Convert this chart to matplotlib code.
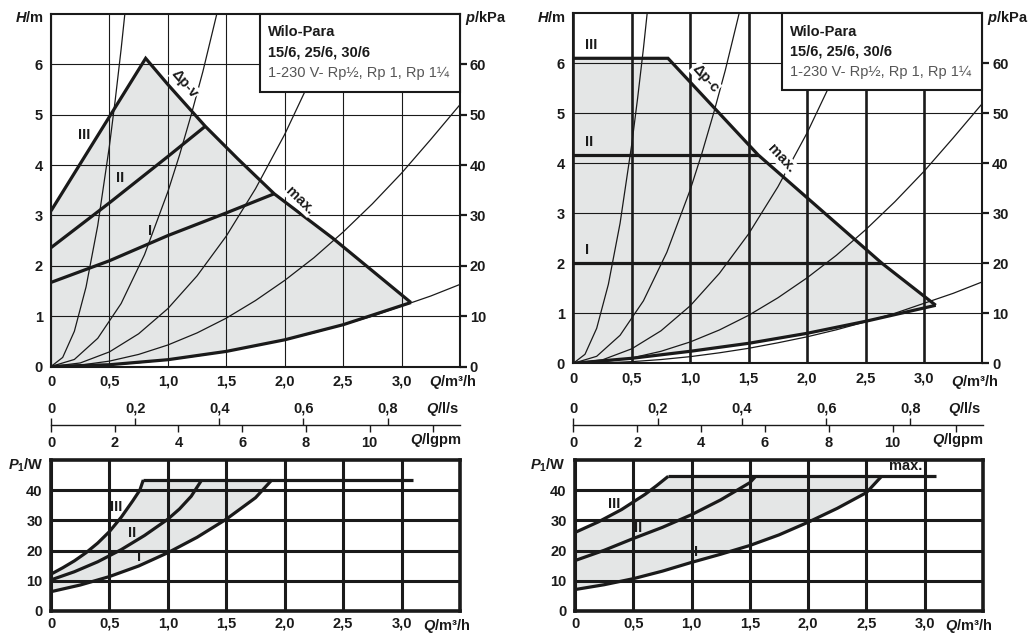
import matplotlib
matplotlib.use('Agg')
import matplotlib.pyplot as plt
from matplotlib.patches import Polygon, Rectangle

plt.rcParams['font.family'] = ['Liberation Sans', 'DejaVu Sans']
plt.rcParams['mathtext.fontset'] = 'custom'
plt.rcParams['mathtext.it'] = 'Liberation Sans:italic:bold'
plt.rcParams['mathtext.rm'] = 'Liberation Sans:bold'
plt.rcParams['mathtext.bf'] = 'Liberation Sans:bold'

W, H = 1028, 634
INK = '#1a1a1a'
FILL = '#e4e6e6'
FS = 10.5

# ---- axis ticks ----
q_ticks = [0, 0.5, 1.0, 1.5, 2.0, 2.5, 3.0]
q_labels = ['0', '0,5', '1,0', '1,5', '2,0', '2,5', '3,0']
h_ticks = [0, 1, 2, 3, 4, 5, 6]
p_ticks = [0, 10, 20, 30, 40, 50, 60]
pw_ticks = [0, 10, 20, 30, 40]
ls_ticks = [0, 0.2, 0.4, 0.6, 0.8]
ls_labels = ['0', '0,2', '0,4', '0,6', '0,8']
gpm_ticks = [0, 2, 4, 6, 8, 10, 12]
gpm_labels = ['0', '2', '4', '6', '8', '10', '']

# ---- thin system curves (Q m3/h, H m), same in both charts ----
sysA_q = [0, 0.1, 0.2, 0.3, 0.4, 0.5, 0.55, 0.6, 0.65]
sysA_h = [0, 0.18, 0.7, 1.58, 2.8, 4.38, 5.3, 6.3, 7.4]
sysB_q = [0, 0.2, 0.4, 0.6, 0.8, 1.0, 1.1, 1.2, 1.3, 1.45]
sysB_h = [0, 0.14, 0.56, 1.25, 2.22, 3.47, 4.2, 5.0, 5.86, 7.3]
sysC_q = [0, 0.25, 0.5, 0.75, 1.0, 1.25, 1.5, 1.75, 2.0, 2.25, 2.5]
sysC_h = [0, 0.07, 0.29, 0.65, 1.15, 1.8, 2.59, 3.53, 4.61, 5.84, 7.2]
sysD_q = [0, 0.25, 0.5, 0.75, 1.0, 1.25, 1.5, 1.75, 2.0, 2.25, 2.5, 2.75, 3.0, 3.25, 3.5]
sysD_h = [0, 0.027, 0.107, 0.24, 0.427, 0.667, 0.96, 1.31, 1.71, 2.16, 2.67, 3.23, 3.84, 4.51, 5.2]
sysE_q = [0, 0.25, 0.5, 0.75, 1.0, 1.25, 1.5, 1.75, 2.0, 2.25, 2.5, 2.75, 3.0, 3.25, 3.5]
sysE_h = [0, 0.008, 0.033, 0.075, 0.133, 0.21, 0.3, 0.41, 0.53, 0.67, 0.83, 1.0, 1.2, 1.4, 1.63]

# ---- left: dp-v ----
v3_q = [0, 0.81]
v3_h = [3.09, 6.12]
v2_q = [0, 0.5, 1.0, 1.32]
v2_h = [2.36, 3.25, 4.17, 4.77]
v1_q = [0, 0.5, 1.0, 1.5, 1.91]
v1_h = [1.67, 2.1, 2.6, 3.05, 3.43]
vmax_q = [0.81, 1.0, 1.32, 1.6, 1.91, 2.41, 3.08]
vmax_h = [6.12, 5.6, 4.77, 4.12, 3.43, 2.55, 1.27]
vlow_q = [3.08, 2.5, 2.0, 1.5, 1.0, 0.5, 0]
vlow_h = [1.27, 0.83, 0.53, 0.3, 0.135, 0.035, 0]

# ---- right: dp-c ----
c3_q = [0, 0.81]
c3_h = [6.1, 6.1]
c2_q = [0, 1.58]
c2_h = [4.17, 4.17]
c1_q = [0, 2.64]
c1_h = [2.0, 2.0]
cmax_q = [0.81, 1.58, 2.64, 3.1]
cmax_h = [6.1, 4.17, 2.0, 1.16]
clow_q = [3.1, 2.5, 2.0, 1.5, 1.0, 0.5, 0]
clow_h = [1.16, 0.84, 0.6, 0.4, 0.24, 0.1, 0]

# ---- power curves P1 (W) ----
pl3_q = [0, 0.1, 0.2, 0.3, 0.4, 0.5, 0.6, 0.7, 0.76, 0.79]
pl3_p = [12.2, 14.3, 16.6, 19.3, 22.5, 26.3, 31, 36.5, 40, 43.4]
pl2_q = [0, 0.2, 0.4, 0.6, 0.8, 1.0, 1.1, 1.2, 1.29]
pl2_p = [10.3, 13, 16.3, 20.3, 25, 30.4, 33.8, 38, 43.4]
pl1_q = [0, 0.25, 0.5, 0.75, 1.0, 1.25, 1.5, 1.75, 1.89]
pl1_p = [6.4, 8.6, 11.4, 14.9, 19.3, 24.4, 30.4, 37.5, 43.4]
plmax_q = [0.79, 3.1]
plmax_p = [43.4, 43.4]

pr3_q = [0, 0.2, 0.4, 0.6, 0.7, 0.8]
pr3_p = [26, 29.5, 33.6, 38.6, 41.5, 44.6]
pr2_q = [0, 0.25, 0.5, 0.75, 1.0, 1.25, 1.5, 1.55]
pr2_p = [16.7, 20.1, 24, 27.7, 31.9, 36.8, 42.5, 44.6]
pr1_q = [0, 0.25, 0.5, 0.75, 1.0, 1.25, 1.5, 1.75, 2.0, 2.25, 2.5, 2.63]
pr1_p = [7.1, 8.7, 10.7, 13.2, 16.1, 18.8, 21.7, 25.2, 29.4, 34, 39.2, 44.6]
prmax_q = [0.8, 3.1]
prmax_p = [44.6, 44.6]

box_lines = ['Wilo-Para', '15/6, 25/6, 30/6', '1-230 V- Rp½, Rp 1, Rp 1¼']

fig = plt.figure(figsize=(W / 100, H / 100), dpi=100)


def rect(x0, y0, x1, y1):
    return [x0 / W, 1 - y1 / H, (x1 - x0) / W, (y1 - y0) / H]


def ftext(x, y, s, **kw):
    kw.setdefault('fontsize', FS)
    kw.setdefault('color', INK)
    kw.setdefault('va', 'center')
    fig.text(x / W, 1 - y / H, s, **kw)


def hq_chart(r, thick_vgrid):
    ax = fig.add_axes(r)
    ax.set_xlim(0, 3.5)
    ax.set_ylim(0, 7)
    ax.set_xticks(q_ticks)
    ax.set_xticklabels(q_labels, fontsize=FS, fontweight='bold', color=INK)
    ax.set_yticks(h_ticks)
    ax.set_yticklabels([str(t) for t in h_ticks], fontsize=FS, fontweight='bold', color=INK)
    ax.tick_params(length=0, pad=6)
    ax.tick_params(axis='x', pad=6)
    ax.xaxis.grid(True, color=INK, lw=1.9 if thick_vgrid else 0.8)
    ax.yaxis.grid(True, color=INK, lw=0.8)
    for s in ax.spines.values():
        s.set_linewidth(1.5)
        s.set_color(INK)
    for q, h in [(sysA_q, sysA_h), (sysB_q, sysB_h), (sysC_q, sysC_h),
                 (sysD_q, sysD_h), (sysE_q, sysE_h)]:
        ax.plot(q, h, color=INK, lw=0.9, zorder=3, clip_on=True)
    ax2 = ax.twinx()
    ax2.set_ylim(0, 70)
    ax2.set_yticks(p_ticks)
    ax2.set_yticklabels([str(t) for t in p_ticks], fontsize=FS, fontweight='bold', color=INK)
    ax2.tick_params(direction='out', length=5, width=1.6, pad=2, color=INK)
    for s in ax2.spines.values():
        s.set_visible(False)
    # info box
    ax.add_patch(Rectangle((0.51, 0.78), 0.49, 0.22, transform=ax.transAxes,
                           facecolor='white', edgecolor=INK, lw=1.5, zorder=6, clip_on=False))
    ax.text(0.53, 0.948, box_lines[0], transform=ax.transAxes, fontsize=FS,
            fontweight='bold', color=INK, va='center', zorder=7)
    ax.text(0.53, 0.890, box_lines[1], transform=ax.transAxes, fontsize=FS,
            fontweight='bold', color=INK, va='center', zorder=7)
    ax.text(0.53, 0.832, box_lines[2], transform=ax.transAxes, fontsize=FS,
            color='#555555', va='center', zorder=7)
    return ax


def p_chart(r):
    ax = fig.add_axes(r)
    ax.set_xlim(0, 3.5)
    ax.set_ylim(0, 50)
    ax.set_xticks(q_ticks)
    ax.set_xticklabels(q_labels, fontsize=FS, fontweight='bold', color=INK)
    ax.set_yticks(pw_ticks)
    ax.set_yticklabels([str(t) for t in pw_ticks], fontsize=FS, fontweight='bold', color=INK)
    ax.tick_params(length=0, pad=6)
    ax.tick_params(axis='x', pad=4)
    ax.grid(True, color=INK, lw=2.2)
    for s in ax.spines.values():
        s.set_linewidth(2.6)
        s.set_color(INK)
    return ax


def unit_axis(x0, x1, y):
    ax = fig.add_axes([x0 / W, 1 - y / H, (x1 - x0) / W, 1e-4])
    ax.patch.set_visible(False)
    ax.set_xlim(0, 3.5 * 3.6662)
    ax.set_xticks(gpm_ticks)
    ax.set_xticklabels(gpm_labels, fontsize=FS, fontweight='bold', color=INK)
    ax.set_yticks([])
    for s in ['top', 'left', 'right']:
        ax.spines[s].set_visible(False)
    ax.spines['bottom'].set_linewidth(1.0)
    ax.spines['bottom'].set_color(INK)
    ax.tick_params(axis='x', direction='out', length=5, width=1, pad=3, color=INK)
    axt = ax.twiny()
    axt.set_xlim(0, 3.5 / 3.6)
    axt.set_xticks(ls_ticks)
    axt.set_xticklabels(ls_labels, fontsize=FS, fontweight='bold', color=INK)
    axt.tick_params(axis='x', direction='out', length=5, width=1, pad=1.5, color=INK)
    for s in axt.spines.values():
        s.set_visible(False)


thick = dict(color=INK, lw=2.3, zorder=4, solid_capstyle='butt', solid_joinstyle='miter')
lab = dict(fontsize=FS, fontweight='bold', color=INK, zorder=8)
halo = dict(facecolor='white', edgecolor='none', pad=0.5)

# ===== top left: dp-v =====
axl = hq_chart(rect(51, 14, 460, 366.5), thick_vgrid=False)
poly = list(zip(v3_q, v3_h)) + list(zip(vmax_q, vmax_h)) + list(zip(vlow_q, vlow_h))
axl.add_patch(Polygon(poly, closed=True, facecolor=FILL, edgecolor='none', zorder=1))
axl.plot(v3_q + vmax_q, v3_h + vmax_h, **thick)
axl.plot(vlow_q, vlow_h, **thick)
axl.plot(v2_q, v2_h, **thick)
axl.plot(v1_q, v1_h, **thick)
axl.text(0.285, 4.6, 'III', ha='center', va='center', **lab)
axl.text(0.59, 3.75, 'II', ha='center', va='center', **lab)
axl.text(0.85, 2.69, 'I', ha='center', va='center', **lab)
axl.text(1.145, 5.62, 'Δp-v', rotation=-49, ha='center', va='center', bbox=halo, **lab)
axl.text(2.13, 3.3, 'max.', rotation=-44, ha='center', va='center', bbox=halo, **lab)

# ===== top right: dp-c =====
axr = hq_chart(rect(573.3, 13.3, 982.5, 363.3), thick_vgrid=True)
poly = [(0, 0)] + list(zip(c3_q, c3_h)) + list(zip(cmax_q, cmax_h)) + list(zip(clow_q, clow_h))
axr.add_patch(Polygon(poly, closed=True, facecolor=FILL, edgecolor='none', zorder=1))
axr.plot(c3_q + cmax_q, c3_h + cmax_h, **thick)
axr.plot(clow_q, clow_h, **thick)
axr.plot(c2_q, c2_h, **thick)
axr.plot(c1_q, c1_h, **thick)
axr.text(0.1, c3_h[0] + 0.12, 'III', ha='left', va='bottom', **lab)
axr.text(0.1, c2_h[0] + 0.12, 'II', ha='left', va='bottom', **lab)
axr.text(0.1, c1_h[0] + 0.12, 'I', ha='left', va='bottom', **lab)
axr.text(1.13, 5.7, 'Δp-c', rotation=-48, ha='center', va='center', bbox=halo, **lab)
axr.text(1.78, 4.1, 'max.', rotation=-47, ha='center', va='center', bbox=halo, **lab)

# ===== unit scales =====
unit_axis(51, 460, 425)
unit_axis(573.3, 983, 425)

# ===== bottom left =====
bl = p_chart(rect(51, 460, 460, 611))
poly = list(zip(pl3_q, pl3_p)) + list(zip(pl1_q[::-1], pl1_p[::-1]))
bl.add_patch(Polygon(poly, closed=True, facecolor=FILL, edgecolor='none', zorder=1))
for q, p in [(pl3_q, pl3_p), (pl2_q, pl2_p), (pl1_q, pl1_p), (plmax_q, plmax_p)]:
    bl.plot(q, p, **thick)
bl.text(0.56, 34.5, 'III', ha='center', va='center', **lab)
bl.text(0.69, 25.7, 'II', ha='center', va='center', **lab)
bl.text(0.75, 18.0, 'I', ha='center', va='center', **lab)

# ===== bottom right =====
br = p_chart(rect(575, 460, 983, 611))
poly = list(zip(pr3_q, pr3_p)) + list(zip(pr1_q[::-1], pr1_p[::-1]))
br.add_patch(Polygon(poly, closed=True, facecolor=FILL, edgecolor='none', zorder=1))
for q, p in [(pr3_q, pr3_p), (pr2_q, pr2_p), (pr1_q, pr1_p), (prmax_q, prmax_p)]:
    br.plot(q, p, **thick)
br.text(0.34, 35.5, 'III', ha='center', va='center', **lab)
br.text(0.54, 27.4, 'II', ha='center', va='center', **lab)
br.text(1.04, 19.5, 'I', ha='center', va='center', **lab)
br.text(2.84, 47.9, 'max.', ha='center', va='center', **lab)

# ===== axis titles =====
for dx in (0, 522.3):
    ftext(15 + dx, 18, r'$H$/m', fontweight='bold')
    ftext(465 + dx, 18, r'$p$/kPa', fontweight='bold')
    ftext(429 + dx, 382, r'$Q$/m³/h', fontweight='bold')
    ftext(459 + dx, 409, r'$Q$/l/s', fontweight='bold', ha='right')
    ftext(461 + dx, 440, r'$Q$/lgpm', fontweight='bold', ha='right')
    ftext(8 + dx, 465.7, r'$P_1$/W', fontweight='bold')
    ftext(423 + dx, 626, r'$Q$/m³/h', fontweight='bold')

fig.savefig('out.png', dpi=100)
